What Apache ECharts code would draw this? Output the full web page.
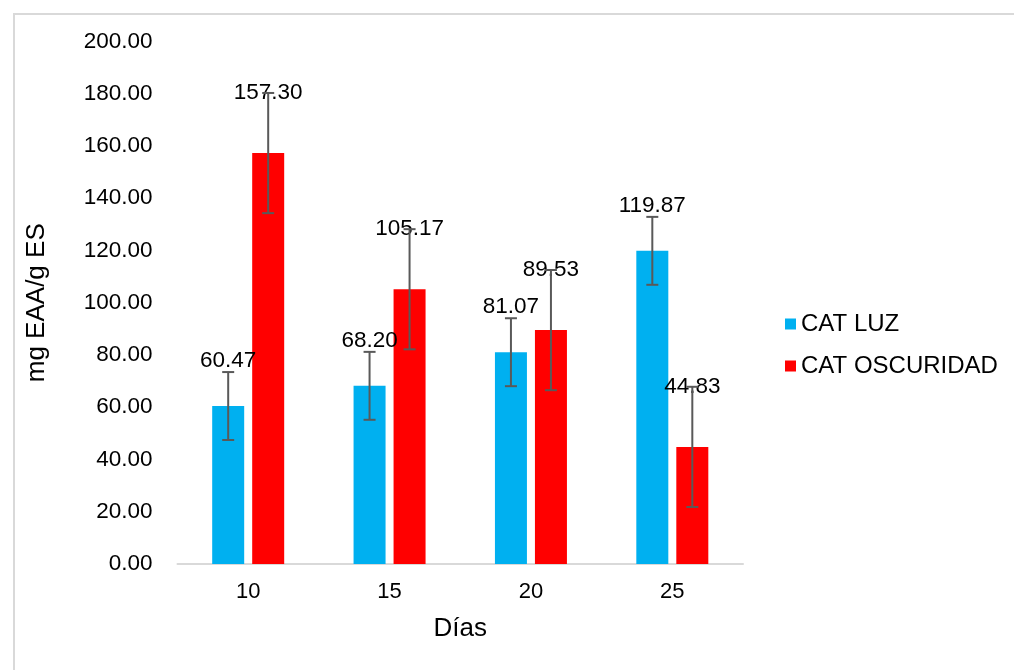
<!DOCTYPE html>
<html>
<head>
<meta charset="utf-8">
<script src="https://cdn.jsdelivr.net/npm/echarts@6/dist/echarts.min.js"></script>
<style>
  html, body { margin: 0; padding: 0; background: #fff; }
  #wrap { position: relative; width: 1014px; height: 670px; overflow: hidden; }
  #frame { position: absolute; left: 13px; top: 13px; width: 1100px; height: 700px; border: 2px solid #d9d9d9; box-sizing: border-box; }
  #chart { position: absolute; left: 0; top: 0; width: 1014px; height: 670px; }
</style>
</head>
<body>
<div id="wrap">
  <div id="frame"></div>
  <div id="chart"></div>
</div>
<script>
const categories = ['10', '15', '20', '25'];
const seriesNames = ['CAT LUZ', 'CAT OSCURIDAD'];
const luz = [60.47, 68.20, 81.07, 119.87];
const oscuridad = [157.30, 105.17, 89.53, 44.83];
const luzErr = [13, 13, 13, 13];
const oscuridadErr = [23, 23, 23, 23];
const yTicks = { min: 0, max: 200, interval: 20 };

const FONT = '"Liberation Sans", Arial, sans-serif';
const BAR_W = 32;
const GAP = 8;

function errorSeries(values, errs, offset, name) {
  const data = values.map((v, i) => [i, v - errs[i], v + errs[i]]);
  return {
    type: 'custom',
    name: name + ' err',
    silent: true,
    z: 10,
    renderItem: function (params, api) {
      const x = api.value(0);
      const lo = api.coord([x, api.value(1)]);
      const hi = api.coord([x, api.value(2)]);
      const cx = lo[0] + offset;
      const cap = 6;
      const style = { stroke: '#595959', lineWidth: 2 };
      return {
        type: 'group',
        children: [
          { type: 'line', shape: { x1: cx, y1: lo[1], x2: cx, y2: hi[1] }, style: style },
          { type: 'line', shape: { x1: cx - cap, y1: lo[1], x2: cx + cap, y2: lo[1] }, style: style },
          { type: 'line', shape: { x1: cx - cap, y1: hi[1], x2: cx + cap, y2: hi[1] }, style: style }
        ]
      };
    },
    data: data
  };
}

const chart = echarts.init(document.getElementById('chart'), null, { renderer: 'canvas' });
const off = (BAR_W + GAP) / 2;
chart.setOption({
  animation: false,
  textStyle: { fontFamily: FONT },
  grid: { left: 177.5, right: 271, top: 41.5, bottom: 106 },
  legend: {
    orient: 'vertical',
    left: 780,
    top: 307,
    itemWidth: 11,
    itemHeight: 11,
    itemGap: 18,
    icon: 'rect',
    data: seriesNames,
    textStyle: { fontSize: 24, color: '#000', fontFamily: FONT }
  },
  xAxis: {
    type: 'category',
    data: categories,
    name: 'Días',
    nameLocation: 'middle',
    nameGap: 52,
    nameTextStyle: { fontSize: 26, color: '#000', fontFamily: FONT },
    axisLine: { lineStyle: { color: '#d9d9d9', width: 2 } },
    axisTick: { show: false },
    axisLabel: { fontSize: 22, color: '#000', margin: 17, fontFamily: FONT }
  },
  yAxis: {
    type: 'value',
    min: yTicks.min,
    max: yTicks.max,
    interval: yTicks.interval,
    name: 'mg EAA/g ES',
    nameLocation: 'middle',
    nameGap: 127.5,
    nameTextStyle: { fontSize: 26, color: '#000', fontFamily: FONT },
    axisLine: { show: false },
    axisTick: { show: false },
    splitLine: { show: false },
    axisLabel: {
      fontSize: 22.5, color: '#000', margin: 25, fontFamily: FONT,
      formatter: v => v.toFixed(2)
    }
  },
  series: [
    {
      name: seriesNames[0],
      type: 'bar',
      data: luz,
      barWidth: BAR_W,
      barGap: (GAP / BAR_W * 100) + '%',
      itemStyle: { color: '#00b0f0' },
      label: {
        show: true, position: 'top', distance: 34,
        fontSize: 22.5, color: '#000', fontFamily: FONT,
        formatter: p => p.value.toFixed(2)
      }
    },
    {
      name: seriesNames[1],
      type: 'bar',
      data: oscuridad,
      barWidth: BAR_W,
      itemStyle: { color: '#ff0000' },
      label: {
        show: true, position: 'top', distance: 48.5,
        fontSize: 22.5, color: '#000', fontFamily: FONT,
        formatter: p => p.value.toFixed(2)
      }
    },
    errorSeries(luz, luzErr, -off, seriesNames[0]),
    errorSeries(oscuridad, oscuridadErr, off, seriesNames[1])
  ]
});
</script>
</body>
</html>
